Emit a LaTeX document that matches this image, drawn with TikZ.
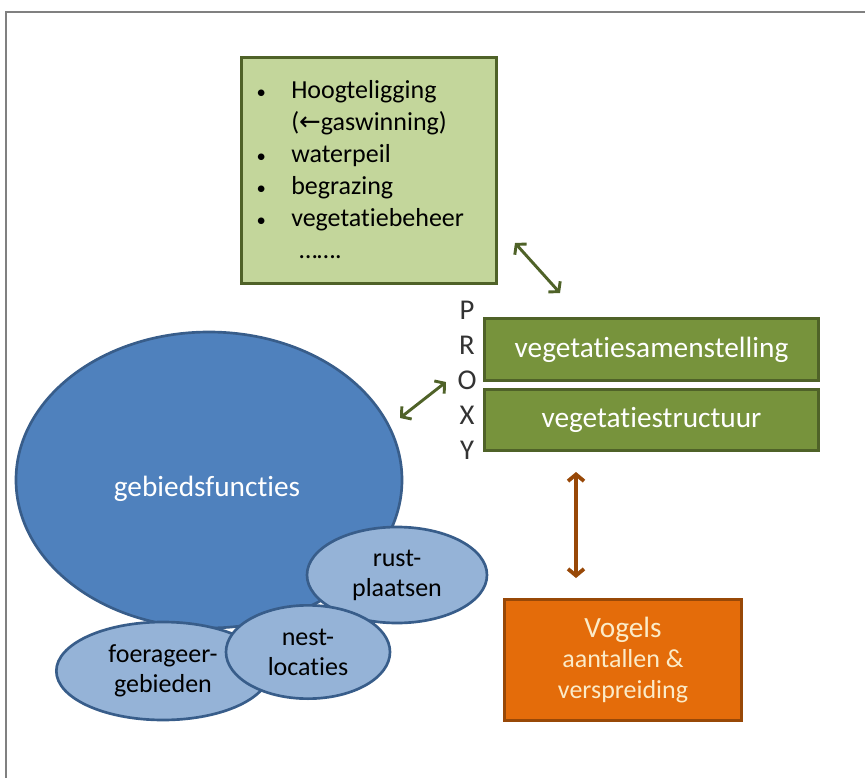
\documentclass[tikz,border=0pt]{standalone}
\usepackage{fontspec}
\setmainfont[Ligatures=NoCommon]{Carlito}
\newfontfamily\symfont{DejaVu Sans}
\usetikzlibrary{arrows.meta,shapes.geometric}
\definecolor{lichtgroen}{HTML}{C3D69B}
\definecolor{donkergroen}{HTML}{77933C}
\definecolor{randgroen}{HTML}{4F6228}
\definecolor{blauw}{HTML}{4F81BD}
\definecolor{lichtblauw}{HTML}{95B3D7}
\definecolor{randblauw}{HTML}{385D8A}
\definecolor{oranje}{HTML}{E46C0A}
\definecolor{bruin}{HTML}{984807}
\definecolor{creme}{HTML}{FBEBC8}
\newcommand{\bol}{\makebox[27pt][l]{\hspace*{1pt}{\fontsize{14}{14}\selectfont •}}}
\begin{document}
\begin{tikzpicture}[x=0.75pt,y=-0.75pt,
  vak/.style={rectangle, draw=#1, line width=2.2pt, inner sep=0pt},
  ovaal/.style={ellipse, draw=randblauw, line width=2pt, inner sep=0pt, align=center},
  pijl/.style={{Straight Barb[length=5pt,width=12pt]}-{Straight Barb[length=5pt,width=12pt]}, line width=2.2pt, draw=#1}
]
\useasboundingbox (0,0) rectangle (865,778);
\draw[line width=2.2pt, gray] (6,778) -- (6,12) -- (865,12);

% maatregelen
\node[vak=randgroen, fill=lichtgroen, minimum width=191pt, minimum height=170pt] (opties) at (369,170.5) {};
\node[anchor=north west, inner sep=0pt, align=left, font=\fontsize{19.5}{24}\selectfont] (tekst) at (255,80) {%
\bol Hoogteligging\\
\hspace*{27pt}({\symfont ←}gaswinning)\\
\bol waterpeil\\
\bol begrazing\\
\bol vegetatiebeheer\\
\hspace*{33pt}…….};

% vegetatie
\node[align=center, inner sep=0pt, font=\fontsize{21.5}{26.25}\selectfont, text=black!80] (proxy) at (467,380) {P\\R\\O\\X\\Y};
\node[vak=randgroen, fill=donkergroen, minimum width=250.5pt, minimum height=46.5pt,
  text=white, font=\fontsize{22}{26}\selectfont] (samen) at (651.5,349.5) {vegetatiesamenstelling};
\node[vak=randgroen, fill=donkergroen, minimum width=250.5pt, minimum height=46pt,
  text=white, font=\fontsize{22}{26}\selectfont] (struct) at (651.5,420) {vegetatiestructuur};

% gebiedsfuncties
\node[ovaal, fill=blauw, minimum width=289.5pt, minimum height=222pt] (gebied) at (209,480) {};
\node[text=white, font=\fontsize{22}{26}\selectfont] (gebiedtekst) at (207,489) {gebiedsfuncties};
\node[ovaal, fill=lichtblauw, minimum width=135pt, minimum height=72pt,
  font=\fontsize{19.5}{22.5}\selectfont] (rust) at (397,575) {rust-\\plaatsen};
\node[ovaal, fill=lichtblauw, minimum width=160pt, minimum height=73.5pt,
  font=\fontsize{19.5}{22.5}\selectfont] (foer) at (163,671) {foerageer-\\gebieden};
\node[ovaal, fill=lichtblauw, minimum width=123pt, minimum height=70pt,
  font=\fontsize{19.5}{22.5}\selectfont] (nest) at (308,652) {nest-\\locaties};

% vogels
\node[vak=bruin, fill=oranje, minimum width=177.75pt, minimum height=90.75pt,
  text=creme, align=center, font=\fontsize{19.5}{23}\selectfont] (vogels) at (623,660)
  {{\fontsize{22}{26}\selectfont Vogels}\\aantallen \&\\verspreiding};

% pijlen
\coordinate (p1a) at (515,243);
\coordinate (p1b) at (560,293);
\coordinate (p2a) at (400,418);
\coordinate (p2b) at (446,382);
\coordinate (p3a) at (576,472);
\coordinate (p3b) at (576,578);
\draw[pijl=randgroen] (p1a) -- (p1b);
\draw[pijl=randgroen] (p2a) -- (p2b);
\draw[pijl=bruin, line width=2.8pt] (p3a) -- (p3b);
\end{tikzpicture}
\end{document}
